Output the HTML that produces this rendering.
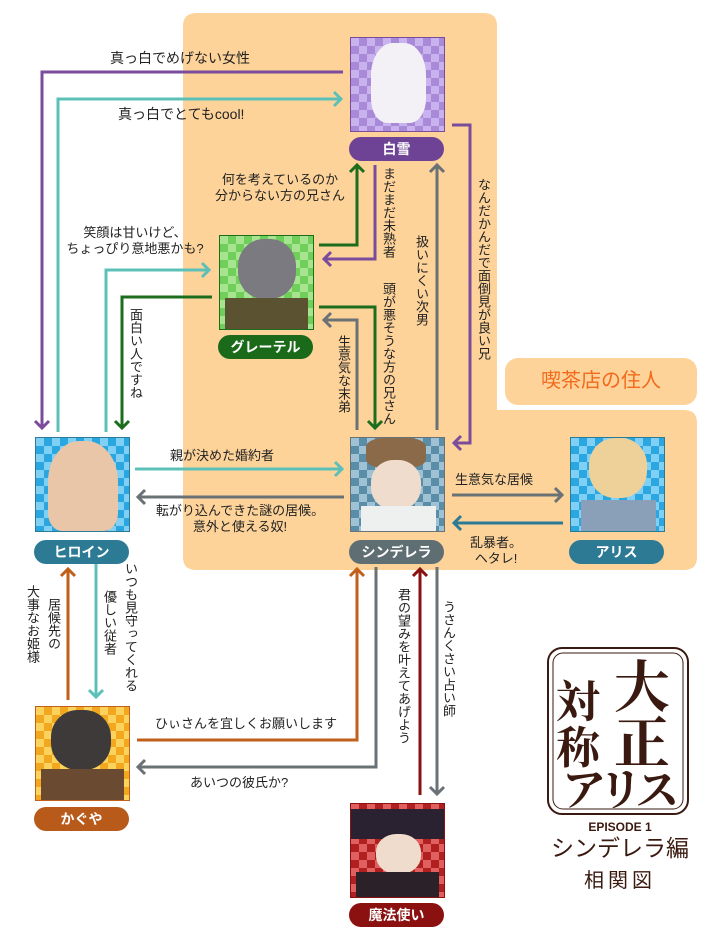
<!DOCTYPE html>
<html><head><meta charset="utf-8"><style>
body{margin:0;background:#fff;}
#c{position:relative;width:720px;height:940px;overflow:hidden;font-family:"Liberation Sans","Noto Sans CJK JP",sans-serif;color:#222;}
.t{position:absolute;font-size:13px;line-height:16px;white-space:nowrap;text-align:center;}
.v{position:absolute;font-size:13px;line-height:15px;writing-mode:vertical-rl;white-space:nowrap;}
.p{position:absolute;width:93px;height:93px;border:1px solid #888;}
.n{position:absolute;width:95px;height:24px;border-radius:12px;color:#fff;font-weight:bold;font-size:14px;line-height:24px;text-align:center;}
.lg{position:absolute;font-family:"Noto Serif CJK SC",serif;font-weight:bold;color:#3a1a10;white-space:nowrap;line-height:1;}
</style></head><body><div id="c">
<svg width="720" height="940" style="position:absolute;left:0;top:0">
<path d="M197,13 H484 Q497,13 497,26 V410 H684 Q697,410 697,423 V557 Q697,570 684,570 H196 Q183,570 183,557 V26 Q183,13 197,13Z" fill="#fdd39a"/>
<rect x="505" y="358" width="192" height="47" rx="13" fill="#fdd39a"/>
<g fill="none" stroke-width="3" stroke-linejoin="miter">
<path d="M343,72 H42 V428" stroke="#7b4c9c"/><path d="M35,421 L42,428 L49,421" stroke="#7b4c9c"/>
<path d="M58,432 V99 H341" stroke="#5cc0b8"/><path d="M334,92 L341,99 L334,106" stroke="#5cc0b8"/>
<path d="M452,125 H470 V443 H454" stroke="#7b4c9c"/><path d="M461,436 L454,443 L461,450" stroke="#7b4c9c"/>
<path d="M319,245 H357 V165" stroke="#1c6e1c"/><path d="M350,172 L357,165 L364,172" stroke="#1c6e1c"/>
<path d="M375,165 V259 H324" stroke="#7b4c9c"/><path d="M331,252 L324,259 L331,266" stroke="#7b4c9c"/>
<path d="M437,430 V165" stroke="#6b7275"/><path d="M430,172 L437,165 L444,172" stroke="#6b7275"/>
<path d="M106,432 V270 H209" stroke="#5cc0b8"/><path d="M202,263 L209,270 L202,277" stroke="#5cc0b8"/>
<path d="M212,297 H122 V428" stroke="#1c6e1c"/><path d="M115,421 L122,428 L129,421" stroke="#1c6e1c"/>
<path d="M319,307 H375 V428" stroke="#1c6e1c"/><path d="M368,421 L375,428 L382,421" stroke="#1c6e1c"/>
<path d="M357,430 V320 H324" stroke="#6b7275"/><path d="M331,313 L324,320 L331,327" stroke="#6b7275"/>
<path d="M135,469 H342" stroke="#5cc0b8"/><path d="M335,462 L342,469 L335,476" stroke="#5cc0b8"/>
<path d="M344,497 H138" stroke="#6b7275"/><path d="M145,490 L138,497 L145,504" stroke="#6b7275"/>
<path d="M452,495 H562" stroke="#6b7275"/><path d="M555,488 L562,495 L555,502" stroke="#6b7275"/>
<path d="M563,523 H454" stroke="#2d7a95"/><path d="M461,516 L454,523 L461,530" stroke="#2d7a95"/>
<path d="M68,700 V569" stroke="#c0601a"/><path d="M61,576 L68,569 L75,576" stroke="#c0601a"/>
<path d="M96,562 V697" stroke="#5cc0b8"/><path d="M89,690 L96,697 L103,690" stroke="#5cc0b8"/>
<path d="M137,740 H357 V569" stroke="#c0601a"/><path d="M350,576 L357,569 L364,576" stroke="#c0601a"/>
<path d="M376,567 V767 H138" stroke="#6b7275"/><path d="M145,760 L138,767 L145,774" stroke="#6b7275"/>
<path d="M420,795 V569" stroke="#8b1010"/><path d="M413,576 L420,569 L427,576" stroke="#8b1010"/>
<path d="M437,567 V794" stroke="#6b7275"/><path d="M430,787 L437,794 L444,787" stroke="#6b7275"/>
</g>
<g fill="none" stroke="#3a1a10" stroke-width="2">
<rect x="548" y="648" width="140" height="166" rx="14"/>
<rect x="553" y="653" width="130" height="156" rx="10" stroke-width="1"/>
</g>
</svg>
<div class="p" style="left:350px;top:37px;background:repeating-conic-gradient(#a98ad8 0 25%,#c9b3ef 0 50%) 0 0/16px 16px;border-color:#7b4c9c"><div style="position:absolute;left:20px;top:5px;width:55px;height:80px;border-radius:40% 40% 30% 30%;background:#f3f1f6"></div></div>
<div class="n" style="left:349px;top:137px;background:#6e4395">白雪</div>
<div class="p" style="left:219px;top:235px;background:repeating-conic-gradient(#6fcf5a 0 25%,#a6e48f 0 50%) 0 0/16px 16px;border-color:#1c6e1c"><div style="position:absolute;left:18px;top:3px;width:58px;height:60px;border-radius:45%;background:#7a7a80"></div><div style="position:absolute;left:5px;top:62px;width:83px;height:31px;background:#5a5230"></div></div>
<div class="n" style="left:218px;top:335px;background:#1a6a1a">グレーテル</div>
<div class="p" style="left:35px;top:437px;background:repeating-conic-gradient(#2aa6e0 0 25%,#7fd0f4 0 50%) 0 0/16px 16px;border-color:#2d7a95"><div style="position:absolute;left:12px;top:3px;width:70px;height:90px;border-radius:45% 45% 20% 20%;background:#e9c6a8"></div></div>
<div class="n" style="left:34px;top:540px;background:#2d7a95">ヒロイン</div>
<div class="p" style="left:350px;top:437px;background:repeating-conic-gradient(#5a8ea8 0 25%,#9ec1d3 0 50%) 0 0/16px 16px;border-color:#6b7275"><div style="position:absolute;left:15px;top:0;width:60px;height:30px;border-radius:30%;background:#8a6a48"></div><div style="position:absolute;left:20px;top:22px;width:50px;height:50px;border-radius:45%;background:#f0dccd"></div><div style="position:absolute;left:10px;top:68px;width:75px;height:25px;background:#eef0f0"></div></div>
<div class="n" style="left:349px;top:540px;background:#5f6e73">シンデレラ</div>
<div class="p" style="left:570px;top:437px;background:repeating-conic-gradient(#2aa6e0 0 25%,#7fd0f4 0 50%) 0 0/16px 16px;border-color:#2d7a95"><div style="position:absolute;left:18px;top:0;width:58px;height:60px;border-radius:45%;background:#edd199"></div><div style="position:absolute;left:10px;top:62px;width:75px;height:31px;background:#8aa0b8"></div></div>
<div class="n" style="left:569px;top:540px;background:#2d7a95">アリス</div>
<div class="p" style="left:35px;top:706px;background:repeating-conic-gradient(#f2a81e 0 25%,#fbd25c 0 50%) 0 0/16px 16px;border-color:#c0601a"><div style="position:absolute;left:15px;top:3px;width:60px;height:60px;border-radius:45%;background:#3e3a3a"></div><div style="position:absolute;left:5px;top:62px;width:83px;height:31px;background:#6a4a30"></div></div>
<div class="n" style="left:34px;top:807px;background:#b85a1a">かぐや</div>
<div class="p" style="left:350px;top:803px;background:repeating-conic-gradient(#b02020 0 25%,#e06060 0 50%) 0 0/16px 16px;border-color:#8b1010"><div style="position:absolute;left:0;top:5px;width:93px;height:30px;background:#2a2230"></div><div style="position:absolute;left:25px;top:30px;width:45px;height:40px;border-radius:45%;background:#f0dccd"></div><div style="position:absolute;left:5px;top:68px;width:83px;height:25px;background:#2a2228"></div></div>
<div class="n" style="left:349px;top:903px;background:#8b1010">魔法使い</div>

<div style="position:absolute;left:505px;top:358px;width:192px;height:47px;line-height:47px;text-align:center;color:#f26a1b;font-size:20px">喫茶店の住人</div>

<div class="t" style="left:110px;top:50px;font-size:14px">真っ白でめげない女性</div>
<div class="t" style="left:118px;top:106px;font-size:14px">真っ白でとてもcool!</div>
<div class="t" style="left:205px;top:172px;width:150px">何を考えているのか<br>分からない方の兄さん</div>
<div class="t" style="left:60px;top:225px;width:150px">笑顔は甘いけど、<br>ちょっぴり意地悪かも?</div>
<div class="v" style="left:476px;top:178px">なんだかんだで面倒見が良い兄</div>
<div class="v" style="left:381px;top:167px">まだまだ未熟者</div>
<div class="v" style="left:414px;top:235px">扱いにくい次男</div>
<div class="v" style="left:128px;top:308px">面白い人ですね</div>
<div class="v" style="left:381px;top:282px">頭が悪そうな方の兄さん</div>
<div class="v" style="left:336px;top:335px">生意気な末弟</div>
<div class="t" style="left:170px;top:448px">親が決めた婚約者</div>
<div class="t" style="left:150px;top:503px;width:180px">転がり込んできた謎の居候。<br>意外と使える奴!</div>
<div class="t" style="left:455px;top:472px">生意気な居候</div>
<div class="t" style="left:470px;top:535px">乱暴者。<br>ヘタレ!</div>
<div class="v" style="left:46px;top:598px">居候先の</div>
<div class="v" style="left:25px;top:585px">大事なお姫様</div>
<div class="v" style="left:123px;top:562px">いつも見守ってくれる</div>
<div class="v" style="left:102px;top:590px">優しい従者</div>
<div class="t" style="left:155px;top:716px">ひぃさんを宜しくお願いします</div>
<div class="t" style="left:190px;top:775px">あいつの彼氏か?</div>
<div class="v" style="left:396px;top:588px">君の望みを叶えてあげよう</div>
<div class="v" style="left:441px;top:600px">うさんくさい占い師</div>

<div class="lg" style="left:556px;top:676px;font-size:44px">対</div>
<div class="lg" style="left:556px;top:722px;font-size:44px">称</div>
<div class="lg" style="left:614px;top:656px;font-size:56px">大</div>
<div class="lg" style="left:614px;top:712px;font-size:56px">正</div>
<div class="lg" style="left:562px;top:764px;font-size:44px;letter-spacing:-6px">アリス</div>
<div style="position:absolute;left:540px;top:820px;width:160px;text-align:center;color:#3a1a10;">
<div style="font-size:12px;font-weight:bold;line-height:14px">EPISODE 1</div>
<div style="font-size:23px;line-height:28px">シンデレラ編</div>
<div style="font-size:20px;line-height:30px;margin-top:4px;letter-spacing:4px">相関図</div>
</div>
</div></body></html>
